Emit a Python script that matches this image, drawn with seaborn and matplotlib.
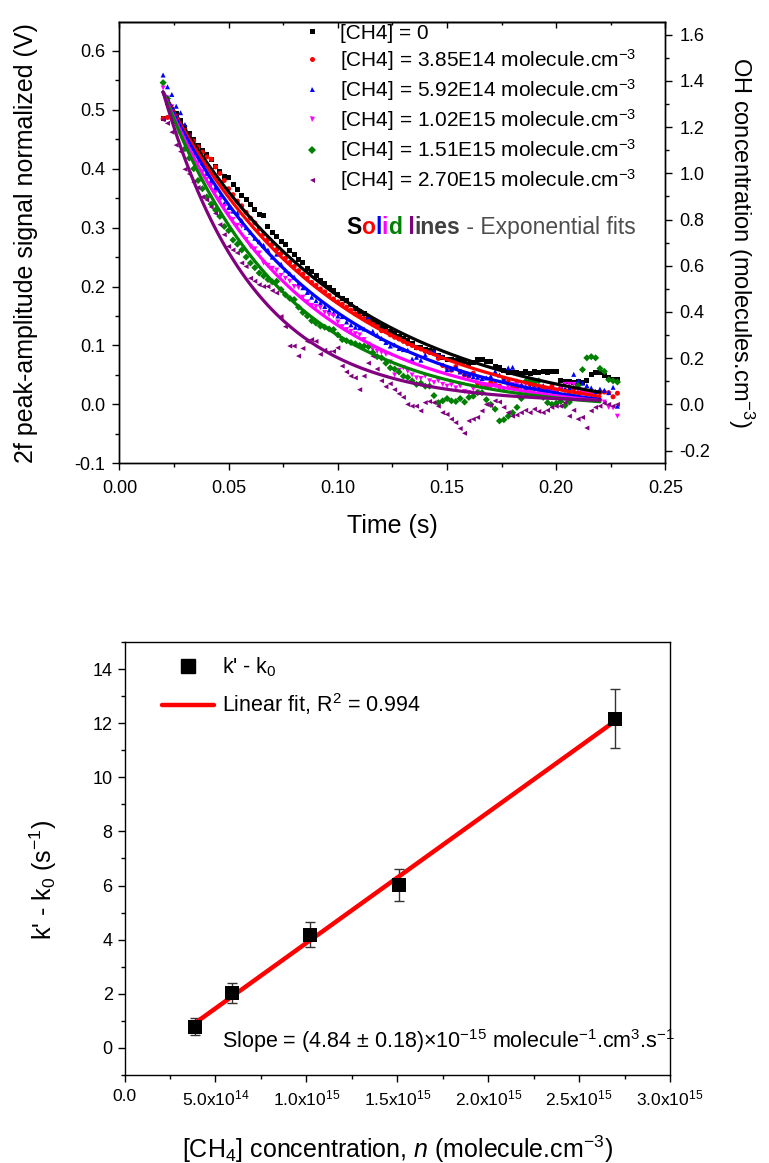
import numpy as np
import pandas as pd
import seaborn as sns
import matplotlib.pyplot as plt
from matplotlib.lines import Line2D
from matplotlib.ticker import MultipleLocator, FormatStrFormatter, FuncFormatter

sns.set_style('ticks', {'axes.edgecolor': 'black', 'xtick.color': 'black', 'ytick.color': 'black',
                        'axes.labelcolor': 'black', 'text.color': 'black'})
plt.rcParams['font.family'] = ['Liberation Sans', 'DejaVu Sans']
plt.rcParams['mathtext.fontset'] = 'custom'
plt.rcParams['mathtext.rm'] = 'Liberation Sans'
plt.rcParams['mathtext.it'] = 'Liberation Sans:italic'
plt.rcParams['mathtext.bf'] = 'Liberation Sans:bold'
plt.rcParams['axes.linewidth'] = 1.0

# ---------------- top panel: OH decay traces ----------------
time_start = 0.020   # s, first sample
time_step = 0.002    # s, sampling interval
n_samples = 105

sig_0 = [0.485, 0.512, 0.500, 0.494, 0.481, 0.470, 0.459, 0.449, 0.440, 0.431,
         0.424, 0.416, 0.404, 0.395, 0.387, 0.385, 0.374, 0.364, 0.355, 0.348,
         0.340, 0.330, 0.322, 0.321, 0.302, 0.292, 0.285, 0.276, 0.272, 0.262,
         0.255, 0.246, 0.240, 0.231, 0.226, 0.218, 0.211, 0.205, 0.198, 0.193,
         0.186, 0.180, 0.176, 0.170, 0.163, 0.158, 0.154, 0.148, 0.143, 0.137,
         0.132, 0.128, 0.124, 0.121, 0.115, 0.112, 0.108, 0.104, 0.097, 0.096,
         0.093, 0.091, 0.089, 0.083, 0.080, 0.076, 0.077, 0.074, 0.075, 0.073,
         0.068, 0.071, 0.076, 0.076, 0.072, 0.073, 0.064, 0.062, 0.058, 0.055,
         0.054, 0.054, 0.052, 0.055, 0.053, 0.055, 0.054, 0.056, 0.055, 0.056,
         0.056, 0.040, 0.039, 0.039, 0.038, 0.039, 0.037, 0.041, 0.050, 0.054,
         0.054, 0.049, 0.045, 0.042, 0.042]
sig_385 = [0.485, 0.487, 0.495, 0.485, 0.475, 0.466, 0.456, 0.447, 0.437, 0.428,
           0.420, 0.416, 0.403, 0.392, 0.380, 0.366, 0.356, 0.345, 0.337, 0.326,
           0.316, 0.308, 0.298, 0.289, 0.280, 0.272, 0.263, 0.256, 0.248, 0.241,
           0.234, 0.227, 0.221, 0.214, 0.207, 0.202, 0.196, 0.191, 0.185, 0.179,
           0.174, 0.170, 0.165, 0.160, 0.154, 0.150, 0.146, 0.141, 0.136, 0.132,
           0.125, 0.124, 0.118, 0.114, 0.111, 0.107, 0.103, 0.100, 0.096, 0.094,
           0.090, 0.088, 0.086, 0.078, 0.066, 0.062, 0.058, 0.064, 0.056, 0.050,
           0.048, 0.053, 0.036, 0.034, 0.030, 0.037, 0.034, 0.031, 0.044, 0.038,
           0.030, 0.028, 0.031, 0.028, 0.034, 0.030, 0.026, 0.028, 0.025, 0.031,
           0.022, 0.028, 0.024, 0.020, 0.026, 0.020, 0.022, 0.019, 0.018, 0.020,
           0.020, 0.021, 0.020, 0.013, 0.019]
sig_592 = [0.559, 0.539, 0.526, 0.506, 0.495, 0.475, 0.458, 0.440, 0.425, 0.410,
           0.392, 0.380, 0.368, 0.352, 0.341, 0.334, 0.328, 0.325, 0.312, 0.300,
           0.292, 0.282, 0.276, 0.270, 0.262, 0.250, 0.255, 0.238, 0.228, 0.222,
           0.216, 0.205, 0.198, 0.190, 0.182, 0.176, 0.172, 0.166, 0.160, 0.155,
           0.150, 0.149, 0.140, 0.135, 0.131, 0.130, 0.128, 0.149, 0.124, 0.118,
           0.112, 0.105, 0.099, 0.101, 0.095, 0.093, 0.092, 0.077, 0.080, 0.075,
           0.084, 0.090, 0.090, 0.083, 0.081, 0.059, 0.060, 0.063, 0.055, 0.052,
           0.050, 0.047, 0.046, 0.044, 0.045, 0.048, 0.056, 0.050, 0.043, 0.062,
           0.063, 0.040, 0.033, 0.028, 0.029, 0.028, 0.028, 0.032, 0.027, 0.027,
           0.024, 0.030, 0.026, 0.028, 0.051, 0.040, 0.036, 0.032, 0.028, 0.022,
           0.026, 0.024, 0.020, 0.029, -0.003]
sig_102 = [0.537, 0.520, 0.505, 0.488, 0.470, 0.452, 0.438, 0.422, 0.410, 0.395,
           0.382, 0.372, 0.360, 0.348, 0.336, 0.323, 0.314, 0.304, 0.302, 0.280,
           0.268, 0.264, 0.257, 0.240, 0.236, 0.231, 0.228, 0.219, 0.214, 0.209,
           0.200, 0.198, 0.182, 0.174, 0.168, 0.166, 0.164, 0.156, 0.152, 0.150,
           0.140, 0.132, 0.127, 0.124, 0.120, 0.118, 0.110, 0.102, 0.093, 0.090,
           0.088, 0.085, 0.072, 0.050, 0.058, 0.062, 0.056, 0.050, 0.045, 0.044,
           0.048, 0.040, 0.037, 0.040, 0.034, 0.031, 0.033, 0.028, 0.031, 0.022,
           0.020, 0.026, 0.021, 0.030, 0.032, 0.028, 0.032, 0.026, 0.024, 0.030,
           0.034, 0.034, 0.028, 0.034, 0.022, 0.024, 0.020, 0.018, 0.021, 0.020,
           0.024, 0.030, 0.034, 0.034, 0.034, 0.025, 0.022, 0.017, 0.015, 0.010,
           0.006, 0.004, -0.005, -0.006, -0.020]
sig_151 = [0.546, 0.519, 0.497, 0.480, 0.462, 0.434, 0.418, 0.400, 0.380, 0.366,
           0.352, 0.340, 0.330, 0.319, 0.302, 0.295, 0.279, 0.272, 0.262, 0.250,
           0.240, 0.232, 0.223, 0.218, 0.212, 0.208, 0.209, 0.195, 0.186, 0.180,
           0.178, 0.165, 0.156, 0.150, 0.142, 0.138, 0.133, 0.131, 0.128, 0.127,
           0.118, 0.110, 0.108, 0.105, 0.103, 0.100, 0.099, 0.098, 0.088, 0.081,
           0.079, 0.070, 0.062, 0.060, 0.055, 0.048, 0.046, 0.040, 0.034, 0.036,
           0.031, 0.031, 0.015, 0.003, 0.006, 0.010, 0.006, 0.005, 0.010, 0.004,
           0.012, 0.014, 0.020, 0.020, 0.008, 0.000, -0.008, -0.028, -0.026, -0.020,
           -0.014, -0.005, 0.010, 0.039, 0.041, 0.037, 0.040, 0.012, 0.003, 0.000,
           0.002, 0.005, -0.002, 0.004, 0.014, 0.032, 0.059, 0.079, 0.081, 0.079,
           0.061, 0.056, 0.042, 0.040, 0.038]
sig_270 = [0.483, 0.477, 0.462, 0.440, 0.429, 0.399, 0.391, 0.377, 0.368, 0.352,
           0.347, 0.335, 0.324, 0.305, 0.288, 0.268, 0.262, 0.257, 0.240, 0.234,
           0.214, 0.209, 0.203, 0.200, 0.200, 0.193, 0.189, 0.149, 0.132, 0.099,
           0.099, 0.082, 0.095, 0.107, 0.110, 0.107, 0.085, 0.092, 0.088, 0.090,
           0.096, 0.065, 0.055, 0.048, 0.045, 0.025, 0.048, 0.070, 0.082, 0.060,
           0.040, 0.030, 0.035, 0.025, 0.018, 0.012, 0.000, -0.003, -0.003, -0.011,
           0.003, 0.005, 0.003, -0.003, -0.014, -0.017, -0.025, -0.031, -0.041, -0.049,
           -0.028, -0.025, -0.022, -0.011, 0.000, -0.002, 0.006, 0.004, -0.005, -0.014,
           -0.020, -0.018, -0.014, -0.010, -0.014, -0.008, -0.012, -0.014, -0.010, -0.005,
           -0.003, -0.003, 0.003, -0.020, -0.010, -0.025, -0.022, -0.040, -0.011, -0.005,
           -0.003, 0.002, 0.000, -0.003, 0.000]

series_labels = ['[CH4] = 0',
                 '[CH4] = 3.85E14 molecule.cm$^{-3}$',
                 '[CH4] = 5.92E14 molecule.cm$^{-3}$',
                 '[CH4] = 1.02E15 molecule.cm$^{-3}$',
                 '[CH4] = 1.51E15 molecule.cm$^{-3}$',
                 '[CH4] = 2.70E15 molecule.cm$^{-3}$']
series_colors = ['#000000', '#ff0000', '#0000ff', '#ff00ff', '#008000', '#800080']
series_markers = ['s', 'o', '^', 'v', 'D', '<']

# exponential fits: y = y0 + (fit_start - y0) * exp(-k (t - t_fit0))
fit_t0, fit_t1 = 0.020, 0.220
fit_start = 0.530
fit_k = [12.0, 12.8, 14.05, 16.2, 18.05, 24.2]
fit_y0 = [-0.030, -0.030, -0.025, -0.015, -0.010, 0.003]

oh_scale = 2.55  # OH concentration per unit of normalized signal

# ---------------- bottom panel: pseudo-first-order plot ----------------
ch4_conc = [3.85e14, 5.92e14, 1.02e15, 1.51e15, 2.70e15]
k_minus_k0 = [0.79, 2.03, 4.19, 6.03, 12.17]
k_err = [0.31, 0.36, 0.47, 0.59, 1.09]

# ---------------- build data frames ----------------
time_s = time_start + time_step * np.arange(n_samples)
all_sig = [sig_0, sig_385, sig_592, sig_102, sig_151, sig_270]
df_pts = pd.concat([pd.DataFrame({'time': time_s, 'signal': s, 'series': lab})
                    for s, lab in zip(all_sig, series_labels)], ignore_index=True)

t_fit = np.linspace(fit_t0, fit_t1, 200)
df_fit = pd.concat([pd.DataFrame({'time': t_fit,
                                  'signal': y0 + (fit_start - y0) * np.exp(-k * (t_fit - fit_t0)),
                                  'series': lab})
                    for k, y0, lab in zip(fit_k, fit_y0, series_labels)], ignore_index=True)

palette = dict(zip(series_labels, series_colors))
markers = dict(zip(series_labels, series_markers))

fig = plt.figure(figsize=(7.69, 11.63), dpi=100)
ax = fig.add_axes([0.1553, 0.6016, 0.7101, 0.3795])
axb = fig.add_axes([0.1619, 0.0757, 0.7094, 0.3723])

sns.scatterplot(data=df_pts, x='time', y='signal', hue='series', style='series',
                palette=palette, markers=markers, s=13, linewidth=0, legend=False, ax=ax, zorder=2)
sns.lineplot(data=df_fit, x='time', y='signal', hue='series', palette=palette,
             lw=2.3, legend=False, ax=ax, sort=False, zorder=3)

ax.set_xlim(0, 0.25)
ax.set_ylim(-0.1, 0.649)
ax.xaxis.set_major_locator(MultipleLocator(0.05))
ax.xaxis.set_minor_locator(MultipleLocator(0.025))
ax.yaxis.set_major_locator(MultipleLocator(0.1))
ax.yaxis.set_minor_locator(MultipleLocator(0.05))
ax.xaxis.set_major_formatter(FormatStrFormatter('%.2f'))
ax.yaxis.set_major_formatter(FormatStrFormatter('%.1f'))
ax.tick_params(which='both', direction='out', labelsize=13, width=1)
ax.tick_params(which='major', length=5)
ax.tick_params(which='minor', length=3)
ax.tick_params(axis='x', pad=7)
ax.tick_params(axis='y', pad=5)
ax.set_xlabel('Time (s)', fontsize=18)
ax.set_ylabel('2f peak-amplitude signal normalized (V)', fontsize=18)
ax.xaxis.set_label_coords(0.5, -0.115)
ax.yaxis.set_label_coords(-0.149, 0.5)

top = ax.secondary_xaxis('top')
top.xaxis.set_major_locator(MultipleLocator(0.05))
top.xaxis.set_minor_locator(MultipleLocator(0.025))
top.tick_params(which='both', direction='in', labeltop=False, width=1)
top.tick_params(which='major', length=4)
top.tick_params(which='minor', length=2.5)

ax2 = ax.twinx()
ax2.set_ylim(-0.1 * oh_scale, 0.649 * oh_scale)
ax2.yaxis.set_major_locator(MultipleLocator(0.2))
ax2.yaxis.set_minor_locator(MultipleLocator(0.1))
ax2.yaxis.set_major_formatter(FormatStrFormatter('%.1f'))
ax2.tick_params(which='both', direction='out', labelsize=13, width=1)
ax2.tick_params(which='major', length=5)
ax2.tick_params(which='minor', length=3)
ax2.tick_params(axis='y', pad=5)
ax2.set_ylabel('OH concentration (molecules.cm$^{-3}$)', fontsize=17, rotation=270, va='bottom')
ax2.yaxis.set_label_coords(1.11, 0.5)

handles = [Line2D([0], [0], marker=m, color=c, ls='none', markersize=3.6, markeredgewidth=0)
           for m, c in zip(series_markers, series_colors)]
ax.legend(handles, series_labels, loc='upper left', bbox_to_anchor=(0.333, 0.996),
          frameon=False, fontsize=15, handlelength=1.0, handletextpad=0.86,
          labelspacing=0.2, borderpad=0, borderaxespad=0)

# coloured "Solid lines - Exponential fits" note
pieces = [('S', '#000000', 'bold'), ('o', '#ff0000', 'bold'), ('l', '#0000ff', 'bold'),
          ('i', '#ff00ff', 'bold'), ('d', '#008000', 'bold'), (' l', '#800080', 'bold'),
          ('ines', '#404040', 'bold'), (' - Exponential fits', '#4d4d4d', 'normal')]
prev = ax.text(0.415, 0.535, pieces[0][0], color=pieces[0][1], fontweight=pieces[0][2],
               fontsize=16.5, transform=ax.transAxes, va='center', ha='left')
for txt, col, wt in pieces[1:]:
    prev = ax.annotate(txt, xy=(1, 0), xycoords=prev, va='bottom', ha='left',
                       color=col, fontweight=wt, fontsize=16.5)

# ---------------- bottom panel ----------------
# least-squares straight line through the five rate constants
slope, intercept = np.polyfit(ch4_conc, k_minus_k0, 1)
fit_x = np.array([min(ch4_conc), max(ch4_conc)])
df_lin = pd.DataFrame({'conc': fit_x, 'k': slope * fit_x + intercept})

axb.errorbar(ch4_conc, k_minus_k0, yerr=k_err, fmt='none', ecolor='#333333',
             elinewidth=1, capsize=3.5, capthick=1, zorder=1)
sns.lineplot(data=df_lin, x='conc', y='k', color='#ff0000', lw=3.2, ax=axb, zorder=2)
sns.scatterplot(x=ch4_conc, y=k_minus_k0, marker='s', s=88, color='black',
                linewidth=0, ax=axb, zorder=3)

axb.set_xlim(0, 3.0e15)
axb.set_ylim(-1, 15)
axb.xaxis.set_major_locator(MultipleLocator(5e14))
axb.xaxis.set_minor_locator(MultipleLocator(2.5e14))
axb.yaxis.set_major_locator(MultipleLocator(2))
axb.yaxis.set_minor_locator(MultipleLocator(1))


def sci_label(v, pos):
    if abs(v) < 1.0:
        return '0.0'
    if v < 0:
        return ''
    ex = int(np.floor(np.log10(v) + 1e-9))
    return '{:.1f}x10$^{{{}}}$'.format(v / 10 ** ex, ex)


axb.xaxis.set_major_formatter(FuncFormatter(sci_label))
axb.tick_params(which='both', direction='out', width=1)
axb.tick_params(axis='x', labelsize=12.5, pad=5)
axb.tick_params(axis='y', labelsize=13)
axb.tick_params(which='major', length=5)
axb.tick_params(which='minor', length=3)
axb.set_xlabel('[CH$_4$] concentration, $n$ (molecule.cm$^{-3}$)', fontsize=18)
axb.set_ylabel("k' - k$_0$ (s$^{-1}$)", fontsize=18)
axb.xaxis.set_label_coords(0.5, -0.136)
axb.yaxis.set_label_coords(-0.12, 0.45)

leg_handles = [Line2D([0], [0], marker='s', color='black', ls='none', markersize=9.4),
               Line2D([0], [0], color='#ff0000', lw=3.2)]
axb.legend(leg_handles, ["k' - k$_0$", 'Linear fit, R$^2$ = 0.994'], loc='upper left',
           bbox_to_anchor=(0.068, 0.968), frameon=False, fontsize=15.5, handlelength=2.45,
           handletextpad=0.34, labelspacing=0.55, borderpad=0, borderaxespad=0)

axb.text(0.179, 0, 'Slope = (4.84 $\\pm$ 0.18)$\\times$10$^{-15}$ molecule$^{-1}$.cm$^{3}$.s$^{-1}$',
         transform=axb.get_yaxis_transform(), fontsize=15.5, va='baseline', ha='left')

fig.savefig('out.png', dpi=100, facecolor='white')
